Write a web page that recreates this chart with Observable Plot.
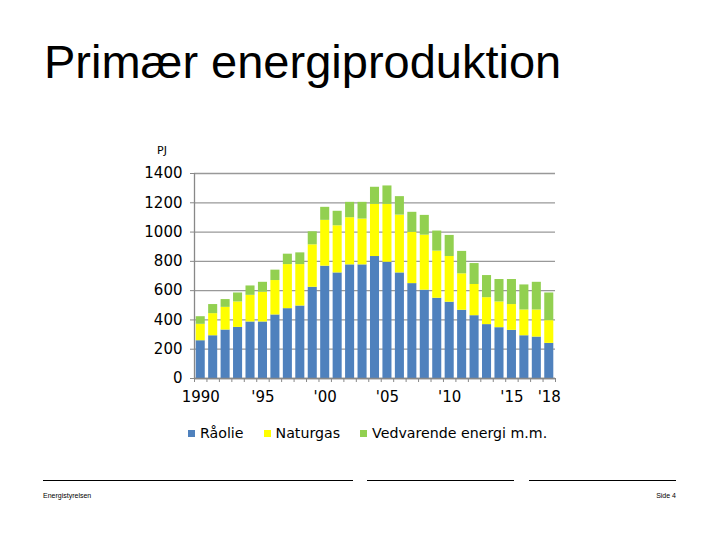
<!DOCTYPE html>
<html><head><meta charset="utf-8">
<script src="https://cdn.jsdelivr.net/npm/d3@7"></script>
<script src="https://cdn.jsdelivr.net/npm/@observablehq/plot@0.6"></script>
<style>
body{margin:0;background:#fff;width:720px;height:540px;position:relative;overflow:hidden;font-family:"DejaVu Sans",Verdana,sans-serif;color:#000}
#title{position:absolute;left:44px;top:38px;font:47px/47px "Liberation Sans",Arial,sans-serif;white-space:nowrap}
#unit{position:absolute;left:157px;top:144px;font-size:11px;line-height:14px}
#chart{position:absolute;left:0;top:140px}
#legend{position:absolute;left:188px;top:424px;display:flex;align-items:center;font-size:14.2px;line-height:18px;white-space:nowrap}
#legend .item{display:flex;align-items:center;margin-right:20px}
#legend .sw{width:7px;height:7px;margin-right:5px}
.fl{position:absolute;top:480px;height:0;border-top:1px solid #000}
.ft{position:absolute;top:491px;font:7px/10px "Liberation Sans",Arial,sans-serif;color:#000}
</style></head>
<body>
<div id="title">Primær energiproduktion</div>
<div id="unit">PJ</div>
<div id="chart"></div>
<div id="legend"></div>
<div class="fl" style="left:43px;width:310px"></div>
<div class="fl" style="left:367px;width:147px"></div>
<div class="fl" style="left:529px;width:147px"></div>
<div class="ft" style="left:43px">Energistyrelsen</div>
<div class="ft" style="right:44px">Side 4</div>
<script>
const years = [1990,1991,1992,1993,1994,1995,1996,1997,1998,1999,2000,2001,2002,2003,2004,2005,2006,2007,2008,2009,2010,2011,2012,2013,2014,2015,2016,2017,2018];
const raolie = [258,292,331,349,386,386,434,477,495,623,767,721,776,776,833,794,721,648,603,548,521,466,429,368,347,329,292,283,240];
const naturgas = [112,151,155,174,182,203,235,301,283,290,313,322,322,313,356,395,395,350,376,322,312,249,213,184,176,176,176,185,155];
const vedvarende = [52,62,53,61,64,68,71,71,80,89,89,99,105,114,117,126,126,137,135,137,144,153,143,151,153,171,171,189,189];
const seriesNames = ["Råolie","Naturgas","Vedvarende energi m.m."];
const seriesColors = ["#4f81bd","#ffff00","#92d050"];
const yTicks = [0,200,400,600,800,1000,1200,1400];
const labelYears = [1990,1995,2000,2005,2010,2015,2018];
const labelTexts = ["1990","'95","'00","'05","'10","'15","'18"];

const seriesValues = [raolie, naturgas, vedvarende];
const table = years.flatMap((yr, i) => seriesNames.map((s, k) => ({year: yr, series: s, value: seriesValues[k][i]})));
const labelMap = new Map(labelYears.map((y, i) => [y, labelTexts[i]]));
const boundaries = [...years, years[years.length - 1] + 1];
const axisColor = "#888888";

const chart = Plot.plot({
  width: 720, height: 280,
  marginLeft: 194, marginRight: 165, marginTop: 33, marginBottom: 42,
  x: {domain: [years[0], years[years.length - 1] + 1]},
  y: {domain: [0, 1400]},
  color: {domain: seriesNames, range: seriesColors},
  style: {fontFamily: "'DejaVu Sans', Verdana, sans-serif", fontSize: "15px", color: "#000", background: "transparent", overflow: "visible"},
  marks: [
    Plot.gridY(yTicks, {stroke: "#999", strokeOpacity: 1, strokeWidth: 1.3}),
    Plot.rect(table, Plot.stackY({x1: d => d.year, x2: d => d.year + 1, y: "value", fill: "series", insetLeft: 1.7, insetRight: 1.7})),
    Plot.ruleY([0], {stroke: axisColor, strokeWidth: 1.3}),
    Plot.ruleX([years[0]], {stroke: axisColor, strokeWidth: 1.3}),
    Plot.axisY({ticks: yTicks, tickSize: 4, tickPadding: 8, stroke: axisColor, tickFormat: d => String(d), label: null}),
    Plot.axisX({ticks: boundaries, tickSize: 4, tickFormat: () => "", stroke: axisColor, label: null}),
    Plot.axisX({ticks: labelYears.map(y => y + 0.5), tickSize: 0, tickPadding: 13, tickFormat: d => labelMap.get(Math.round(d - 0.5)), label: null})
  ]
});
document.getElementById("chart").appendChild(chart);

const legend = document.getElementById("legend");
seriesNames.forEach((s, i) => {
  const it = document.createElement("div"); it.className = "item";
  const sw = document.createElement("span"); sw.className = "sw"; sw.style.background = seriesColors[i];
  const tx = document.createElement("span"); tx.textContent = s;
  it.appendChild(sw); it.appendChild(tx); legend.appendChild(it);
});
</script>
</body></html>
